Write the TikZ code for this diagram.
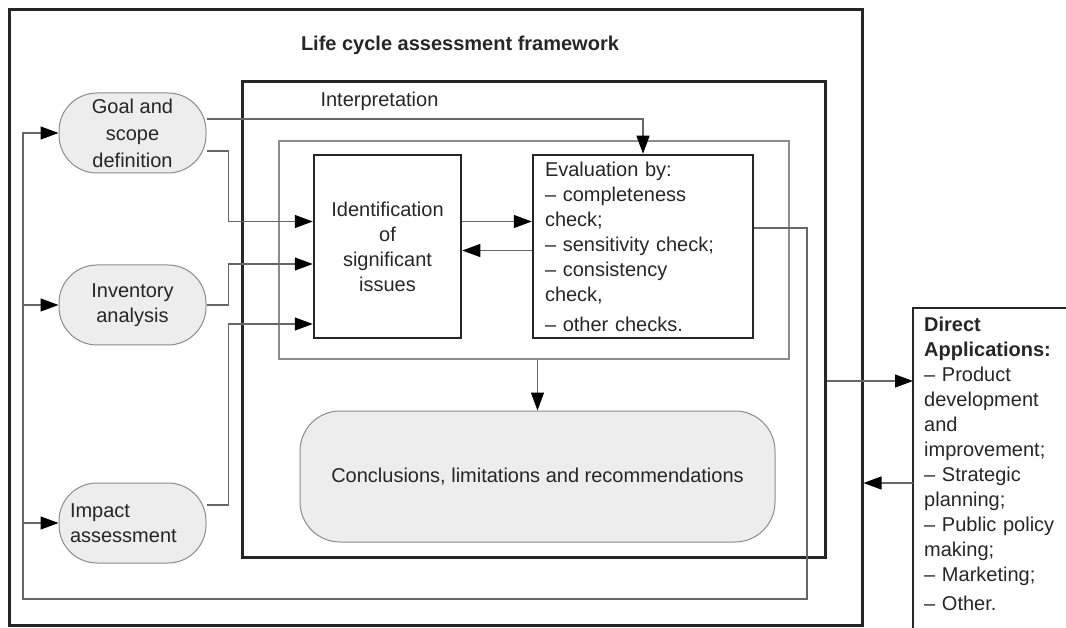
\documentclass[tikz,border=0pt]{standalone}
\usepackage{fontspec}
\setmainfont{Liberation Sans}
\usetikzlibrary{arrows.meta}

\tikzset{
  txt/.style={font=\fontsize{20}{25}\selectfont, text=black!85},
  frame/.style={draw=black!85, line width=3pt},
  box/.style={draw=black!85, line width=2.5pt, inner sep=0pt, txt},
  phase/.style={draw=black!45, line width=1pt, fill=black!7, rounded corners=38pt,
    minimum width=147pt, minimum height=80pt, inner sep=0pt, txt, align=center},
  conn/.style={draw=black!60, line width=1.2pt},
  arr/.style={conn, -{Triangle[length=18pt,width=13pt,color=black]}}
}

\begin{document}
\begin{tikzpicture}[x=1pt, y=-1pt]
  \useasboundingbox (0,0) rectangle (1066,628);
  \node[frame, minimum width=853pt, minimum height=615pt] (lca) at (435.5,317.5) {};
  \node[txt, font=\fontsize{20}{25}\selectfont\bfseries] (title) at (460,45) {Life cycle assessment framework};

  \node[frame, minimum width=583pt, minimum height=475pt] (interp) at (533.5,319.5) {};
  \node[txt, anchor=west] (interplabel) at (317,101) {Interpretation};
  \node[draw=black!45, line width=1.2pt, minimum width=510pt, minimum height=218pt] (inner) at (534,250) {};
  \node[box, minimum width=147pt, minimum height=183pt, align=center] (ident) at (387.5,246.5)
    {Identification\\of\\significant\\issues};
  \node[box, minimum width=220pt, minimum height=183pt, text width=196pt, align=left] (eval) at (643,246.5)
    {Evaluation by:\\– completeness\\check;\\– sensitivity check;\\– consistency\\check,\\[5pt]– other checks.};
  \node[phase, minimum width=475pt, minimum height=131pt, rounded corners=40pt] (concl) at (537.5,476.5)
    {Conclusions, limitations and recommendations};

  \node[phase, font=\fontsize{20}{27}\selectfont] (goal) at (132.5,133) {Goal and\\scope\\definition};
  \node[phase] (inv) at (132.5,305) {Inventory\\analysis};
  \node[phase, align=left, text width=125pt] (imp) at (132.5,523) {Impact\\assessment};

  \node[txt, anchor=north west, text width=150pt, inner xsep=11pt, inner ysep=9pt, align=left] (da) at (913,308)
    {\textbf{Direct}\\\textbf{Applications:}\\– Product\\development\\and\\improvement;\\– Strategic\\planning;\\– Public policy\\making;\\– Marketing;\\[4pt]– Other.};
  \draw[line width=1.5pt, draw=black!85] (da.north east) -- (da.north west) -- ([yshift=-30pt]da.south west);

  \draw[arr] ([yshift=14pt]goal.east) -| (eval.north);
  \draw[arr] ([yshift=-18pt]goal.east) -- ++(22,0) |- ([yshift=25pt]ident.west);
  \draw[arr] (inv.east) -- ++(22,0) |- ([yshift=-17.5pt]ident.west);
  \draw[arr] ([yshift=18pt]imp.east) -- ++(22,0) |- ([yshift=-77.5pt]ident.west);
  \draw[arr] ([yshift=25pt]ident.east) -- ([yshift=25pt]eval.west);
  \draw[arr] ([yshift=-4pt]eval.west) -- ([yshift=-4pt]ident.east);
  \draw[arr] (concl.north |- inner.south) -- (concl.north);

  \coordinate (loopR) at (807,599);
  \coordinate (loopL) at (23,599);
  \draw[arr] ([yshift=18.5pt]eval.east) -| (loopR) -- (loopL) |- (goal.west);
  \foreach \n in {inv,imp}
    \draw[arr] (loopL |- \n.west) -- (\n.west);

  \coordinate (daIn) at ([yshift=-61.5pt]interp.east);
  \draw[arr] (daIn) -- (daIn -| da.west);
  \draw[arr] (da.west |- 0,483) -- (lca.east |- 0,483);
\end{tikzpicture}
\end{document}
